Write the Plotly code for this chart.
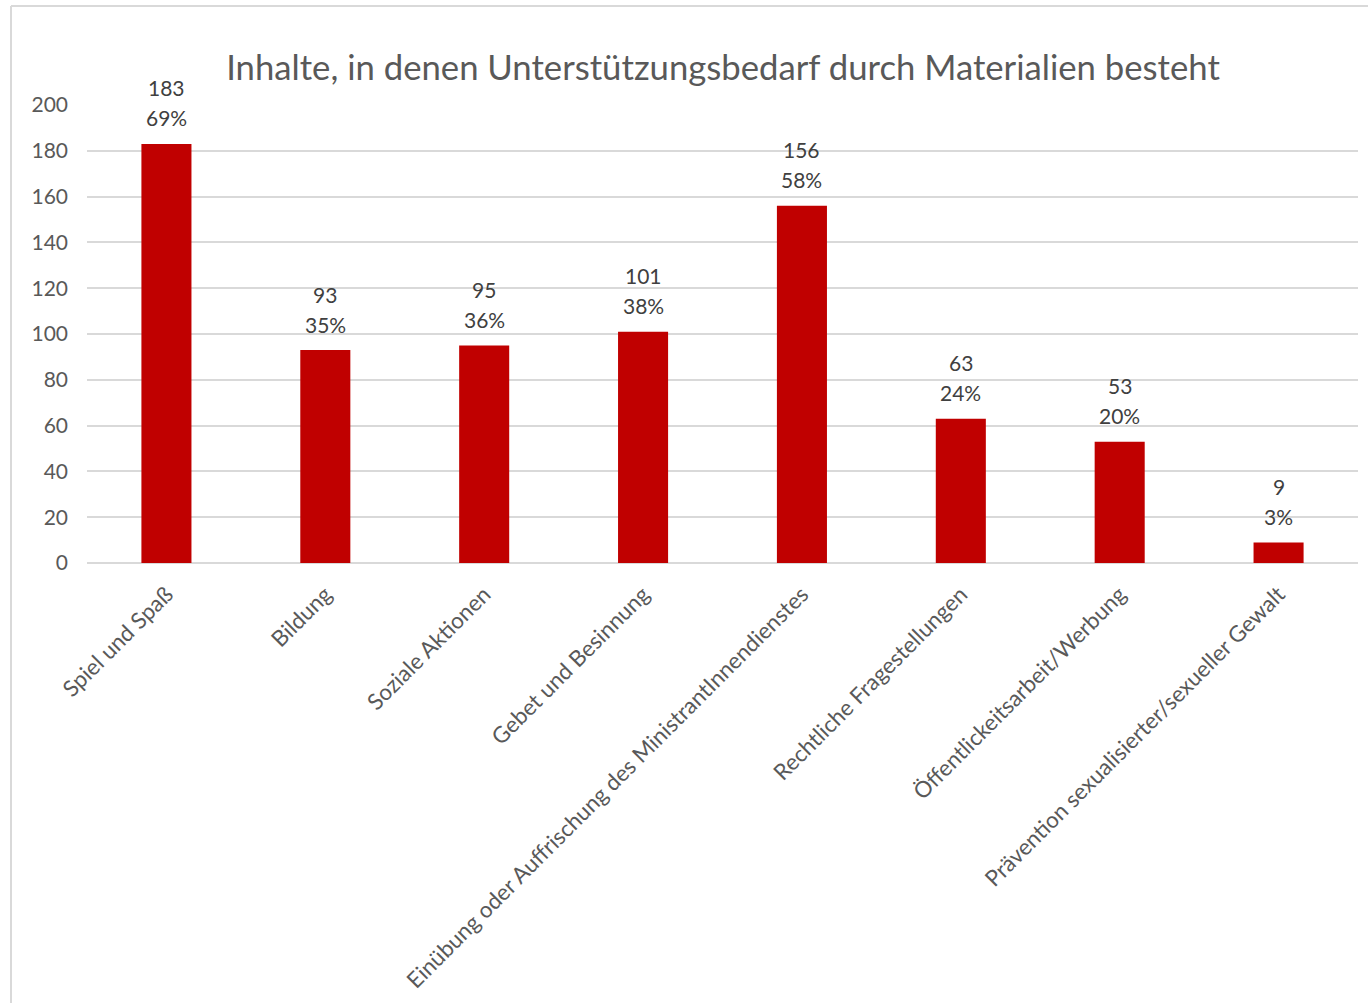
import plotly.graph_objects as go

categories = [
    "Spiel und Spaß",
    "Bildung",
    "Soziale Aktionen",
    "Gebet und Besinnung",
    "Einübung oder Auffrischung des MinistrantInnendienstes",
    "Rechtliche Fragestellungen",
    "Öffentlickeitsarbeit/Werbung",
    "Prävention sexualisierter/sexueller Gewalt",
]
counts = [183, 93, 95, 101, 156, 63, 53, 9]
percent_labels = ["69%", "35%", "36%", "38%", "58%", "24%", "20%", "3%"]
y_ticks = [0, 20, 40, 60, 80, 100, 120, 140, 160, 180, 200]

FONT = "Lato"
BAR_COLOR = "#C00000"
GRID = "#D9D9D9"

fig = go.Figure()
fig.add_trace(go.Bar(
    x=categories,
    y=counts,
    marker=dict(color=BAR_COLOR, line=dict(width=0)),
    hoverinfo="x+y",
))

# value and share labels stacked above each bar
for cat, val, pct in zip(categories, counts, percent_labels):
    fig.add_annotation(
        x=cat, y=val, xref="x", yref="y",
        text=str(val),
        showarrow=False, yanchor="middle", yshift=56,
        font=dict(family=FONT, size=21, color="#404040"),
    )
    fig.add_annotation(
        x=cat, y=val, xref="x", yref="y",
        text=pct,
        showarrow=False, yanchor="middle", yshift=26,
        font=dict(family=FONT, size=21, color="#404040"),
    )

W, H = 1368, 1003
ml, mr, mt, mb = 87, 10, 105, 440
pw, ph = W - ml - mr, H - mt - mb

def px_x(px):
    return (px - ml) / pw

def px_y(py):
    return (H - mb - py) / ph

# light chart frame (left and top edges)
fig.add_shape(type="line", xref="paper", yref="paper",
              x0=px_x(11), x1=px_x(11), y0=px_y(1010), y1=px_y(6),
              line=dict(color=GRID, width=2))
fig.add_shape(type="line", xref="paper", yref="paper",
              x0=px_x(11), x1=px_x(1375), y0=px_y(6), y1=px_y(6),
              line=dict(color=GRID, width=2))

fig.update_layout(
    width=W, height=H,
    margin=dict(l=ml, r=mr, t=mt, b=mb),
    paper_bgcolor="white", plot_bgcolor="white",
    bargap=0.685,
    showlegend=False,
    title=dict(
        text="Inhalte, in denen Unterstützungsbedarf durch Materialien besteht",
        x=723 / W, xanchor="center",
        y=1 - 68 / H, yanchor="middle",
        font=dict(family=FONT, size=34.7, color="#595959"),
    ),
    xaxis=dict(
        tickangle=-45,
        tickfont=dict(family=FONT, size=22.4, color="#595959"),
        showgrid=False, showline=False, ticks="",
        ticklabelstandoff=13,
    ),
    yaxis=dict(
        range=[0, 200],
        tickvals=y_ticks,
        tickfont=dict(family=FONT, size=21, color="#595959"),
        gridcolor=GRID, gridwidth=1.5,
        zeroline=True, zerolinecolor=GRID, zerolinewidth=1.5,
        showline=False, ticks="", ticklabelstandoff=18,
    ),
)

fig.write_html("out.html")
